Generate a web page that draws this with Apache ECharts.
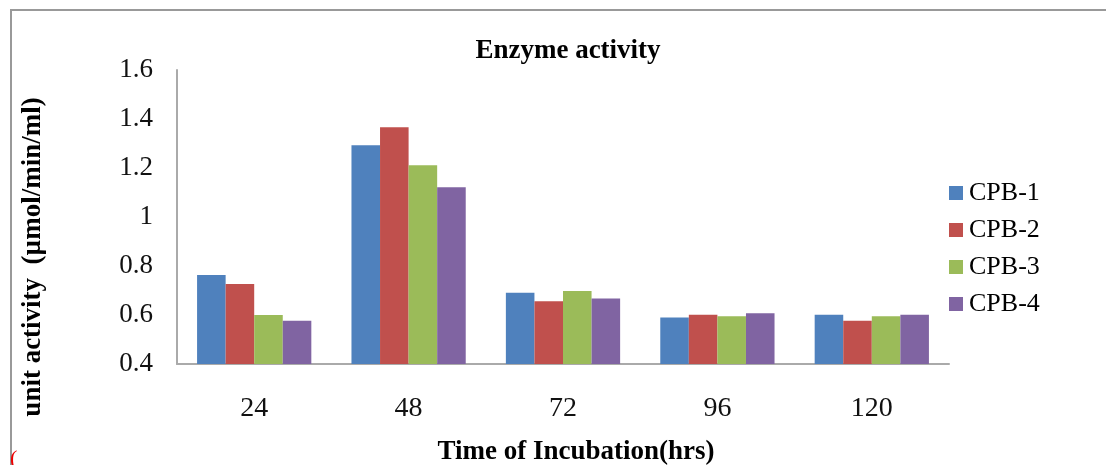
<!DOCTYPE html>
<html>
<head>
<meta charset="utf-8">
<script src="https://cdn.jsdelivr.net/npm/echarts@6/dist/echarts.min.js"></script>
<style>
html,body{margin:0;padding:0;background:#fff;}
#chart{width:1106px;height:465px;}
</style>
</head>
<body>
<div id="chart"></div>
<script>
const categories = ['24', '48', '72', '96', '120'];
const cpb1 = [0.763, 1.293, 0.691, 0.590, 0.601];
const cpb2 = [0.727, 1.366, 0.656, 0.601, 0.577];
const cpb3 = [0.600, 1.211, 0.698, 0.595, 0.595];
const cpb4 = [0.577, 1.121, 0.667, 0.607, 0.601];
const seriesNames = ['CPB-1', 'CPB-2', 'CPB-3', 'CPB-4'];
const colors = ['#4F81BD', '#C0504D', '#9BBB59', '#8064A2'];

const FONT = '"Liberation Serif", "Times New Roman", serif';
const chart = echarts.init(document.getElementById('chart'));
const allData = [cpb1, cpb2, cpb3, cpb4];

chart.setOption({
  animation: false,
  color: colors,
  title: {
    text: 'Enzyme activity',
    left: 563, top: 33, textAlign: 'center',
    textStyle: {fontFamily: FONT, fontWeight: 'bold', fontSize: 27, color: '#000'}
  },
  legend: {
    orient: 'vertical',
    left: 944, top: 175,
    itemWidth: 14, itemHeight: 14, itemGap: 11,
    icon: 'rect',
    textStyle: {fontFamily: FONT, fontSize: 26, color: '#000', padding: [0,0,0,1]},
    data: seriesNames
  },
  grid: {left: 177, right: 157, top: 70, bottom: 101, containLabel: false, outerBoundsMode: 'none'},
  xAxis: {
    type: 'category',
    data: categories,
    name: 'Time of Incubation(hrs)',
    nameLocation: 'middle',
    nameGap: 75,
    nameTextStyle: {fontFamily: FONT, fontWeight: 'bold', fontSize: 27, color: '#000', padding: [0,0,0,26]},
    axisLine: {lineStyle: {color: '#aaa', width: 2}},
    axisTick: {show: false},
    axisLabel: {fontFamily: FONT, fontSize: 28, color: '#111', margin: 31}
  },
  yAxis: {
    type: 'value',
    min: 0.4, max: 1.6, interval: 0.2,
    name: 'unit activity  (µmol/min/ml)',
    nameLocation: 'middle',
    nameGap: 130,
    nameTextStyle: {fontFamily: FONT, fontWeight: 'bold', fontSize: 27, color: '#000', padding: [0,80,0,0]},
    axisLine: {show: true, lineStyle: {color: '#aaa', width: 2}},
    axisTick: {show: false},
    splitLine: {show: false},
    axisLabel: {fontFamily: FONT, fontSize: 27, color: '#111', margin: 24, padding: [9,0,0,0]}
  },
  graphic: [
    {type: 'rect', shape: {x: 11, y: 10, width: 1200, height: 500},
     style: {fill: 'none', stroke: '#999', lineWidth: 2}, silent: true},
    {type: 'text', left: 10, top: 448,
     style: {text: '(', fill: '#e00', font: '22px ' + FONT}}
  ],
  series: seriesNames.map((n, i) => ({
    name: n,
    type: 'bar',
    data: allData[i],
    barGap: '0%',
    barCategoryGap: '26%'
  }))
});
</script>
</body>
</html>
